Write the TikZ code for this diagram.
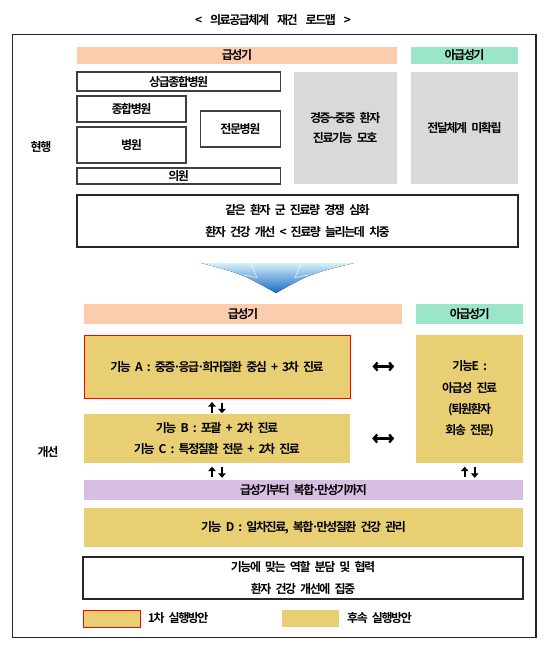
\documentclass[tikz,border=0pt]{standalone}
\usepackage{fontspec}
\setmainfont{Noto Sans CJK KR}[BoldFont={Noto Sans CJK KR Bold}, WordSpace=3.2, LetterSpace=-12]
\newfontfamily\titlefont{Noto Sans CJK KR Bold}[WordSpace=6.2, LetterSpace=-12]
\usetikzlibrary{arrows.meta}
\definecolor{salmon}{RGB}{252,205,172}
\definecolor{mint}{RGB}{155,229,201}
\definecolor{grayfill}{RGB}{217,217,217}
\definecolor{gold}{RGB}{232,207,115}
\definecolor{lilac}{RGB}{216,190,226}
\definecolor{arrowtop}{RGB}{210,240,250}
\definecolor{arrowbot}{RGB}{25,105,195}
\newcommand\mdot{\kern-2pt·\kern-2pt}
\tikzset{
  lbl/.style={font=\fontsize{12}{21}\selectfont\bfseries, text=black, align=center},
  bar/.style={lbl, inner sep=0pt, draw=none},
  wbox/.style={lbl, inner sep=0pt, draw=black!75, line width=1.1pt, fill=white},
  gbox/.style={lbl, inner sep=0pt, fill=grayfill},
  tbox/.style={lbl, inner sep=0pt, draw=black!85, line width=1.8pt, fill=white},
  fbox/.style={lbl, inner sep=0pt, fill=gold},
  vup/.style={line width=2.4pt, -{Triangle[width=7.5pt,length=4.5pt]}},
  hboth/.style={line width=2.3pt, {Straight Barb[length=3.5pt,width=8pt]}-{Straight Barb[length=3.5pt,width=8pt]}},
}
\begin{document}
\begin{tikzpicture}[x=1pt,y=-1pt]
\useasboundingbox (0,0) rectangle (558,648);
\fill[white] (0,0) rectangle (558,648);
% outer frame
\node[draw=black!85, line width=1.1pt, minimum width=523.2pt, minimum height=603.2pt, inner sep=0pt] (frame) at (274.4,336.1) {};
\node[lbl, font=\fontsize{12}{21}\titlefont] (title) at (273,20.5) {< 의료공급체계 재건 로드맵 >};
% ---- current ----
\node[lbl] (curlbl) at (41,147) {현행};
\node[bar, fill=salmon, minimum width=320pt, minimum height=17pt] (acute1) at (237,55.5) {급성기};
\node[bar, fill=mint, minimum width=107pt, minimum height=17pt] (sub1) at (464.5,55.5) {아급성기};
\node[wbox, minimum width=203.4pt, minimum height=19pt] (sang) at (178.7,81.5) {상급종합병원};
\node[wbox, minimum width=109pt, minimum height=26pt] (jong) at (131.5,109) {종합병원};
\node[wbox, minimum width=109pt, minimum height=36pt] (byeong) at (131.5,145) {병원};
\node[wbox, minimum width=80pt, minimum height=36pt] (jeonmun) at (240.4,129) {전문병원};
\node[wbox, minimum width=203.4pt, minimum height=16pt] (uiwon) at (178.7,176) {의원};
\node[gbox, minimum width=103.2pt, minimum height=112pt, font=\fontsize{12}{20}\selectfont\bfseries] (gray1) at (345.2,128) {경증\textasciitilde 중증 환자\\진료기능 모호};
\node[gbox, minimum width=107pt, minimum height=112pt] (gray2) at (464.5,128) {전달체계 미확립};
\node[tbox, minimum width=441pt, minimum height=52pt, font=\fontsize{12}{22.5}\selectfont\bfseries] (problem) at (297.5,221) {같은 환자 군 진료량 경쟁 심화\\환자 건강 개선 < 진료량 늘리는데 치중};
% ---- big arrow ----
\fill[top color=arrowtop, bottom color=arrowbot] (201,263) -- (354,263) .. controls (310,274) .. (276,293) .. controls (242,274) .. (201,263) -- cycle;
\draw[white, line width=0.6pt, opacity=0.8] (251.5,264.5) -- (257,277.5) -- (244,275);
\draw[white, line width=0.6pt, opacity=0.8] (300.5,264.5) -- (295,277.5) -- (308,275);
% ---- improved ----
\node[lbl] (implbl) at (48,452) {개선};
\node[bar, fill=salmon, minimum width=318pt, minimum height=20pt] (acute2) at (243,314) {급성기};
\node[bar, fill=mint, minimum width=106.6pt, minimum height=20pt] (sub2) at (469.7,314) {아급성기};
\node[fbox, draw=red, line width=1pt, minimum width=266pt, minimum height=63pt] (boxA) at (217,366.5) {기능 A : 중증\mdot 응급\mdot 희귀질환 중심 + 3차 진료};
\node[fbox, minimum width=266pt, minimum height=49pt] (boxBC) at (217,438.5) {기능 B : 포괄 + 2차 진료\\기능 C : 특정질환 전문 + 2차 진료};
\node[fbox, minimum width=106.6pt, minimum height=128pt, font=\fontsize{12}{21.3}\selectfont\bfseries] (boxE) at (469.7,399) {기능E :\\아급성 진료\\(퇴원환자\\회송 전문)};
\node[bar, fill=lilac, minimum width=439pt, minimum height=20pt] (purple) at (303.5,490) {급성기부터 복합\mdot 만성기까지};
\node[fbox, minimum width=439pt, minimum height=39pt] (boxD) at (303.5,527.5) {기능 D : 일차진료, 복합\mdot 만성질환 건강 관리};
\node[tbox, minimum width=440pt, minimum height=42pt, font=\fontsize{12}{22}\selectfont\bfseries] (goal) at (303,578) {기능에 맞는 역할 분담 및 협력\\환자 건강 개선에 집중};
% connectors
\draw[vup] ([xshift=-5pt,yshift=1pt]boxBC.north) -- ([xshift=-5pt,yshift=-3.5pt]boxA.south);
\draw[vup] ([xshift=5pt,yshift=-4pt]boxA.south) -- ([xshift=5pt,yshift=0.5pt]boxBC.north);
\draw[vup] ([xshift=-5pt,yshift=2.5pt]boxBC.south |- purple.north) -- ([xshift=-5pt,yshift=-3.5pt]boxBC.south);
\draw[vup] ([xshift=5pt,yshift=-4pt]boxBC.south) -- ([xshift=5pt,yshift=2pt]boxBC.south |- purple.north);
\draw[vup] ([xshift=-5pt,yshift=2.5pt]boxE.south |- purple.north) -- ([xshift=-5pt,yshift=-3.5pt]boxE.south);
\draw[vup] ([xshift=5pt,yshift=-4pt]boxE.south) -- ([xshift=5pt,yshift=2pt]boxE.south |- purple.north);
\draw[hboth, shorten <=22pt, shorten >=22pt] (boxA.east) -- (boxA.east -| boxE.west);
\draw[hboth, shorten <=22pt, shorten >=22pt] (boxBC.east) -- (boxBC.east -| boxE.west);
% legend
\node[fbox, draw=red, line width=1pt, minimum width=57.6pt, minimum height=17pt] (leg1) at (111.8,618.5) {};
\node[lbl, anchor=west, inner sep=0pt] (leg1t) at (147.7,618.5) {1차 실행방안};
\node[fbox, minimum width=57pt, minimum height=17pt] (leg2) at (310.5,618.5) {};
\node[lbl, anchor=west, inner sep=0pt] (leg2t) at (347,618.5) {후속 실행방안};
\end{tikzpicture}
\end{document}
